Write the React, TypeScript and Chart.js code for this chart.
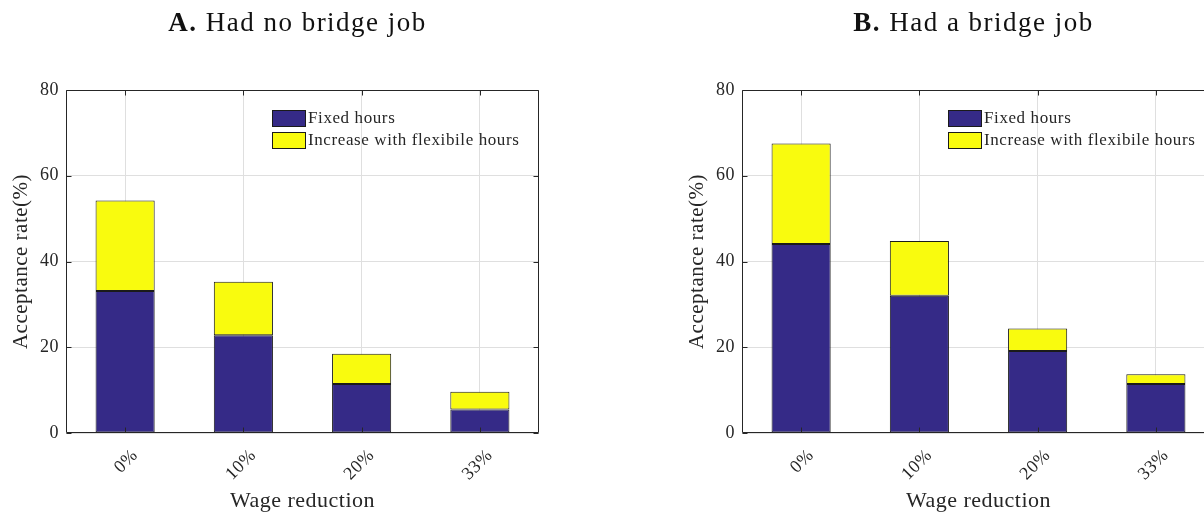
import React, { useEffect, useRef } from 'react';
import { Chart, registerables } from 'chart.js';

Chart.register(...registerables);

// ---- data ----
const categories = ['0%', '10%', '20%', '33%'];
const noBridgeFixed = [33.1, 22.8, 11.4, 5.5];
const noBridgeIncrease = [21.1, 12.5, 7.1, 4.1];
const bridgeFixed = [44.1, 32.0, 19.1, 11.4];
const bridgeIncrease = [23.4, 12.8, 5.3, 2.3];
const seriesNames = ['Fixed hours', 'Increase with flexibile hours'];
const yMin = 0;
const yMax = 80;
const yStep = 20;
const xAxisTitle = 'Wage reduction';
const yAxisTitle = 'Acceptance rate(%)';
const titleA = { tag: 'A.', text: ' Had no bridge job' };
const titleB = { tag: 'B.', text: ' Had a bridge job' };

// ---- styles ----
const NAVY = '#352a87';
const YELLOW = '#f9fb0e';
const INK = '#262626';
const EDGE = '#1a1a1a';
const GRID = '#dfdfdf';
const SERIF = '"Liberation Serif", "Times New Roman", serif';

function makePlugin(title: { tag: string; text: string }) {
  return {
    id: 'matlabFrame',
    beforeDraw(chart: any) {
      chart.ctx.letterSpacing = '0.5px';
    },
    afterDatasetsDraw(chart: any) {
      const { ctx, chartArea: a, scales } = chart;
      ctx.save();
      ctx.strokeStyle = INK;
      ctx.lineWidth = 1;
      const L = Math.round(a.left) + 0.5;
      const R = Math.round(a.right) - 0.5;
      const T = Math.round(a.top) + 0.5;
      const B = Math.round(a.bottom) - 0.5;
      ctx.beginPath();
      ctx.rect(L, T, R - L, B - T);
      const xs = scales.x;
      for (let i = 0; i < xs.ticks.length; i++) {
        const px = Math.round(xs.getPixelForTick(i)) + 0.5;
        ctx.moveTo(px, B);
        ctx.lineTo(px, B - 5);
        ctx.moveTo(px, T);
        ctx.lineTo(px, T + 5);
      }
      const ys = scales.y;
      for (let i = 0; i < ys.ticks.length; i++) {
        const py = Math.round(ys.getPixelForTick(i)) + 0.5;
        ctx.moveTo(L, py);
        ctx.lineTo(L + 5, py);
        ctx.moveTo(R, py);
        ctx.lineTo(R - 5, py);
      }
      ctx.stroke();
      ctx.restore();
    },
    afterDraw(chart: any) {
      const { ctx, chartArea: a } = chart;
      // legend inside plot area
      ctx.save();
      ctx.letterSpacing = '0.6px';
      ctx.font = `17px ${SERIF}`;
      ctx.textBaseline = 'middle';
      ctx.textAlign = 'left';
      chart.data.datasets.forEach((ds: any, i: number) => {
        const x = Math.round(a.left + 206);
        const y = Math.round(a.top + 20 + i * 22);
        ctx.fillStyle = ds.backgroundColor;
        ctx.fillRect(x, y, 33, 16);
        ctx.strokeStyle = EDGE;
        ctx.lineWidth = 1;
        ctx.strokeRect(x + 0.5, y + 0.5, 33, 16);
        ctx.fillStyle = INK;
        ctx.fillText(ds.label, x + 36, y + 9);
      });
      ctx.restore();

      // panel title: bold tag + regular text
      ctx.save();
      ctx.letterSpacing = '1.5px';
      ctx.textBaseline = 'alphabetic';
      ctx.textAlign = 'left';
      ctx.fillStyle = '#111';
      const boldFont = `bold 27px ${SERIF}`;
      const normFont = `27px ${SERIF}`;
      ctx.font = boldFont;
      const w1 = ctx.measureText(title.tag).width;
      ctx.font = normFont;
      const w2 = ctx.measureText(title.text).width;
      const cx = (a.left + a.right) / 2 - 5;
      const x0 = cx - (w1 + w2) / 2;
      ctx.font = boldFont;
      ctx.fillText(title.tag, x0, 31);
      ctx.font = normFont;
      ctx.fillText(title.text, x0 + w1, 31);
      ctx.restore();
    },
  };
}

function Panel(props: { fixed: number[]; increase: number[]; title: { tag: string; text: string }; left: number }) {
  const ref = useRef<HTMLCanvasElement>(null);
  useEffect(() => {
    const canvas = ref.current;
    if (!canvas) return;
    const chart = new Chart(canvas, {
      type: 'bar',
      data: {
        labels: categories,
        datasets: [
          {
            label: seriesNames[0],
            data: props.fixed,
            backgroundColor: NAVY,
            borderColor: EDGE,
            borderWidth: 1,
            borderSkipped: false,
            barPercentage: 0.5,
            categoryPercentage: 1,
          },
          {
            label: seriesNames[1],
            data: props.increase,
            backgroundColor: YELLOW,
            borderColor: EDGE,
            borderWidth: 1,
            borderSkipped: false,
            barPercentage: 0.5,
            categoryPercentage: 1,
          },
        ],
      },
      options: {
        responsive: false,
        animation: false,
        devicePixelRatio: 1,
        layout: { padding: { top: 90, right: 61, bottom: 0, left: 0 } },
        plugins: {
          legend: { display: false },
          tooltip: { enabled: false },
          title: { display: false },
        },
        scales: {
          x: {
            stacked: true,
            offset: true,
            grid: { display: true, offset: false, color: GRID, drawTicks: false },
            border: { display: false },
            ticks: {
              autoSkip: false,
              minRotation: 45,
              maxRotation: 45,
              labelOffset: 10,
              padding: 12,
              color: INK,
              font: { family: SERIF, size: 18 },
            },
            title: {
              display: true,
              text: xAxisTitle,
              color: INK,
              font: { family: SERIF, size: 22 },
              padding: { top: 0, bottom: 0 },
            },
            afterFit(scale: any) {
              scale.height = 81;
            },
          },
          y: {
            stacked: true,
            min: yMin,
            max: yMax,
            grid: { color: GRID, drawTicks: false },
            border: { display: false },
            ticks: {
              stepSize: yStep,
              padding: 7,
              color: INK,
              font: { family: SERIF, size: 18 },
            },
            title: {
              display: true,
              text: yAxisTitle,
              color: INK,
              font: { family: SERIF, size: 21 },
              padding: { top: 9, bottom: 0 },
            },
            afterFit(scale: any) {
              scale.width = 66;
            },
          },
        },
      },
      plugins: [makePlugin(props.title)],
    } as any);
    return () => chart.destroy();
  }, []);
  return (
    <canvas
      ref={ref}
      width={600}
      height={514}
      style={{ position: 'absolute', left: props.left, top: 0, width: 600, height: 514 }}
    />
  );
}

export default function App() {
  return (
    <div
      style={{
        position: 'absolute',
        left: 0,
        top: 0,
        width: 1204,
        height: 514,
        overflow: 'hidden',
        background: '#ffffff',
      }}
    >
      <Panel fixed={noBridgeFixed} increase={noBridgeIncrease} title={titleA} left={0} />
      <Panel fixed={bridgeFixed} increase={bridgeIncrease} title={titleB} left={676} />
    </div>
  );
}
